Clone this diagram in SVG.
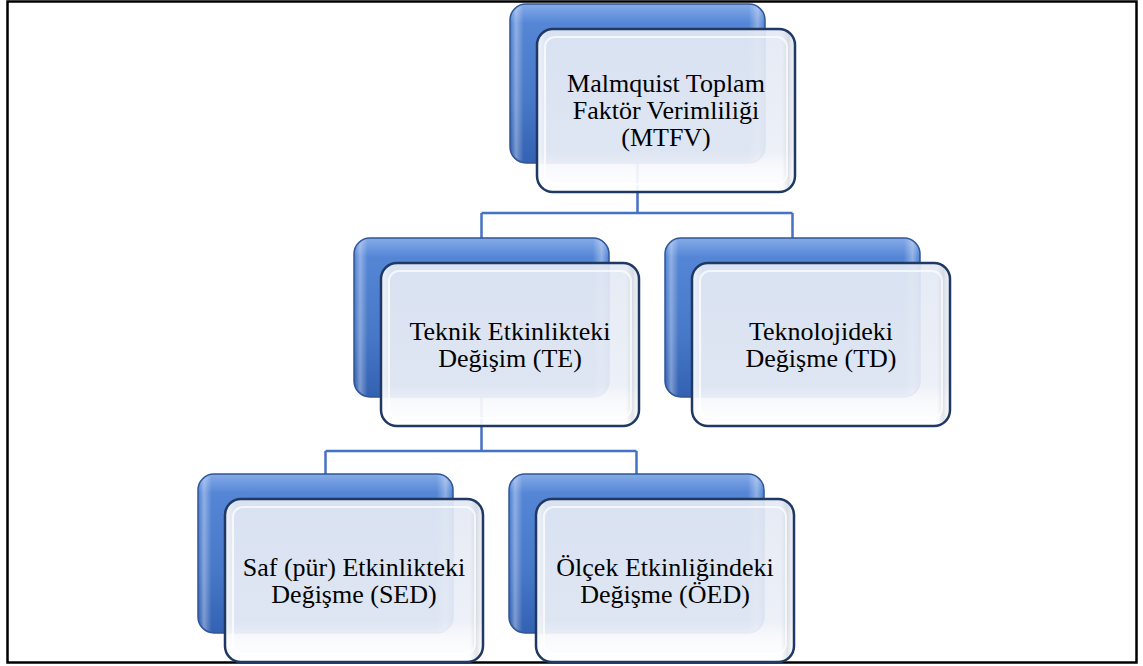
<svg xmlns="http://www.w3.org/2000/svg" width="1143" height="666" viewBox="0 0 1143 666">
  <defs>
    <!-- glossy blue back plate -->
    <linearGradient id="backV" x1="0" y1="0" x2="0" y2="1">
      <stop offset="0" stop-color="#86ABE8"/>
      <stop offset="0.12" stop-color="#5586D6"/>
      <stop offset="0.6" stop-color="#4878C8"/>
      <stop offset="1" stop-color="#3462B3"/>
    </linearGradient>
    <linearGradient id="backH" x1="0" y1="0" x2="1" y2="0">
      <stop offset="0" stop-color="#ffffff" stop-opacity="0"/>
      <stop offset="0.02" stop-color="#ffffff" stop-opacity="0.35"/>
      <stop offset="0.05" stop-color="#ffffff" stop-opacity="0"/>
      <stop offset="0.94" stop-color="#ffffff" stop-opacity="0"/>
      <stop offset="0.975" stop-color="#ffffff" stop-opacity="0.35"/>
      <stop offset="1" stop-color="#ffffff" stop-opacity="0"/>
    </linearGradient>
    <!-- pale front card -->
    <linearGradient id="frontV" x1="0" y1="0" x2="0" y2="1">
      <stop offset="0" stop-color="#E3E9F4"/>
      <stop offset="0.75" stop-color="#EBEFF7"/>
      <stop offset="0.85" stop-color="#F8F9FC"/>
      <stop offset="1" stop-color="#FFFFFF"/>
    </linearGradient>
    <linearGradient id="frontEdge" x1="0" y1="0" x2="1" y2="0">
      <stop offset="0" stop-color="#ffffff" stop-opacity="0.6"/>
      <stop offset="0.04" stop-color="#ffffff" stop-opacity="0"/>
      <stop offset="0.95" stop-color="#C8CCD3" stop-opacity="0"/>
      <stop offset="0.975" stop-color="#C8CCD3" stop-opacity="0.5"/>
      <stop offset="1" stop-color="#ffffff" stop-opacity="0.2"/>
    </linearGradient>
    <g id="card">
      <!-- back plate -->
      <rect x="0" y="0" width="255" height="159" rx="16" fill="url(#backV)" stroke="#2F5597" stroke-width="1.5"/>
      <rect x="1" y="1" width="253" height="157" rx="15" fill="url(#backH)"/>
      <!-- front card -->
      <rect x="27" y="25" width="258" height="163" rx="16" fill="url(#frontV)" fill-opacity="0.93"/>
      <rect x="27" y="25" width="258" height="163" rx="16" fill="url(#frontEdge)"/>
      <rect x="35" y="33" width="242" height="147" rx="10" fill="none" stroke="#ffffff" stroke-opacity="0.7" stroke-width="2"/>
      <rect x="27" y="25" width="258" height="163" rx="16" fill="none" stroke="#1F3864" stroke-width="2.5"/>
    </g>
  </defs>
  <style>
    .frame { fill: #ffffff; stroke: #000000; stroke-width: 2.5; }
    .conn { fill: none; stroke: #4472C4; stroke-width: 2.5; }
    text { font-family: "Liberation Serif", "Times New Roman", serif; font-size: 26px; fill: #000000; text-anchor: middle; }
  </style>

  <rect class="frame" x="7.5" y="1.5" width="1129" height="661"/>

  <g id="connectors">
    <path class="conn" d="M637.5 163 V213 M481.5 213 H792.5 M481.5 213 V238 M792.5 213 V238"/>
    <path class="conn" d="M481.5 397 V451 M325.5 451 H636.5 M325.5 451 V474 M636.5 451 V474"/>
  </g>

  <g id="node-mtfv" transform="translate(510,4)">
    <use href="#card"/>
    <text x="156" y="88">Malmquist Toplam</text>
    <text x="156" y="115">Faktör Verimliliği</text>
    <text x="156" y="142">(MTFV)</text>
  </g>

  <g id="node-te" transform="translate(354,238)">
    <use href="#card"/>
    <text x="156" y="102">Teknik Etkinlikteki</text>
    <text x="156" y="129">Değişim (TE)</text>
  </g>

  <g id="node-td" transform="translate(665,238)">
    <use href="#card"/>
    <text x="156" y="102">Teknolojideki</text>
    <text x="156" y="129">Değişme (TD)</text>
  </g>

  <g id="node-sed" transform="translate(198,474)">
    <use href="#card"/>
    <text x="156" y="102">Saf (pür) Etkinlikteki</text>
    <text x="156" y="129">Değişme (SED)</text>
  </g>

  <g id="node-oed" transform="translate(509,474)">
    <use href="#card"/>
    <text x="156" y="102">Ölçek Etkinliğindeki</text>
    <text x="156" y="129">Değişme (ÖED)</text>
  </g>
</svg>
